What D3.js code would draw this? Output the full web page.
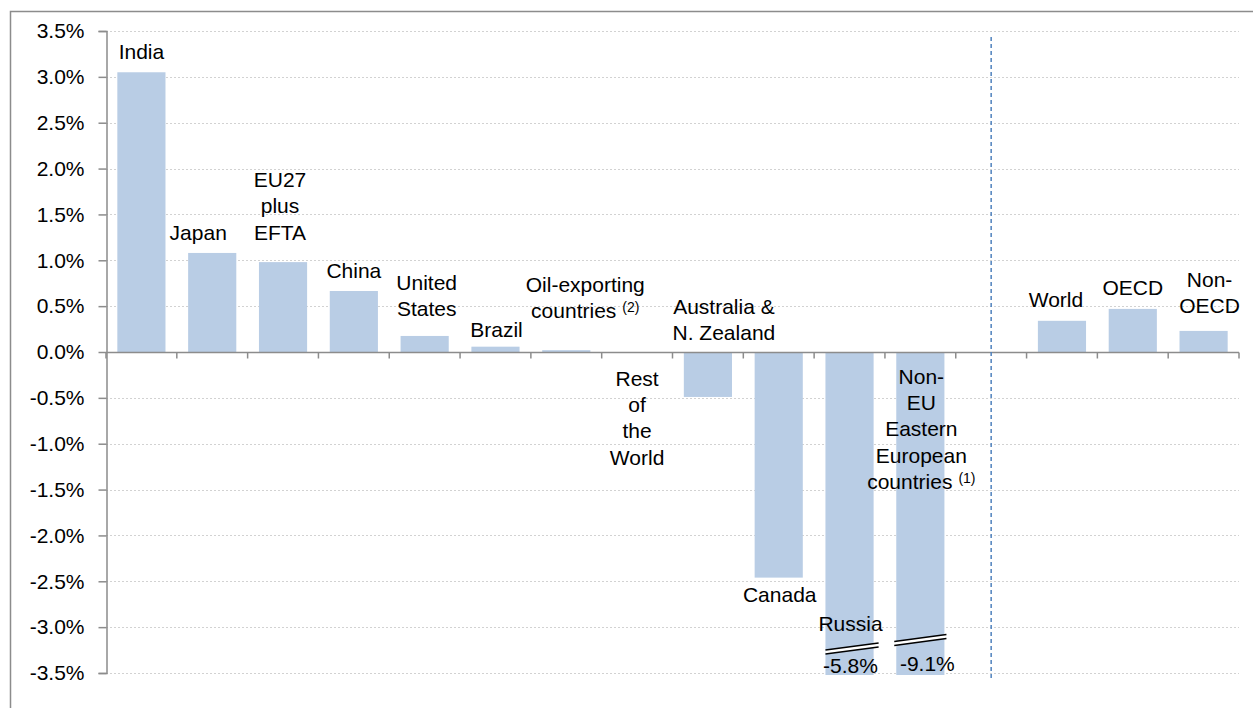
<!DOCTYPE html>
<html>
<head>
<meta charset="utf-8">
<script src="https://cdn.jsdelivr.net/npm/d3@7"></script>
<style>
  html, body { margin: 0; padding: 0; background: #fff; }
  svg { display: block; font-family: "Liberation Sans", Arial, sans-serif; }
</style>
</head>
<body>
<svg id="chart" width="1253" height="708"></svg>
<script>
// ---------- data ----------
const categories = ["India", "Japan", "EU27 plus EFTA", "China", "United States", "Brazil",
  "Oil-exporting countries", "Rest of the World", "Australia & N. Zealand", "Canada", "Russia",
  "Non-EU Eastern European countries", "", "World", "OECD", "Non-OECD"];
const values = [3.05, 1.08, 0.98, 0.665, 0.175, 0.058, 0.02, 0.0, -0.49, -2.46, -5.8, -9.1, null, 0.34, 0.47, 0.23];
const labelLines = [["India"], ["Japan"], ["EU27", "plus", "EFTA"], ["China"], ["United", "States"], ["Brazil"],
  ["Oil-exporting", "countries"], ["Rest", "of", "the", "World"], ["Australia &", "N. Zealand"], ["Canada"], ["Russia"],
  ["Non-", "EU", "Eastern", "European", "countries"], [], ["World"], ["OECD"], ["Non-", "OECD"]];
const labelNotes = ["", "", "", "", "", "", "(2)", "", "", "", "", "(1)", "", "", "", ""];
const yTicks = [3.5, 3.0, 2.5, 2.0, 1.5, 1.0, 0.5, 0.0, -0.5, -1.0, -1.5, -2.0, -2.5, -3.0, -3.5];

// ---------- layout (pixel offsets of labels relative to bar end) ----------
const labelDx = [0, -14, -3, 0, 2, 1, 19, 0, 16, 1, 1, 1, 0, -6, 0, 6];
const labelDy = [-13, -13, -75, -13, -46, -10, -58, 34, -83, 24, -42, -289, 0, -14, -14, -44];
const lineGap = 26.2;

const svg = d3.select("#chart");
const mLeft = 106, mRight = 1239, mTop = 31, mBottom = 673;

// outer frame
svg.append("rect").attr("x", 10.5).attr("y", 11.5).attr("width", 1260).attr("height", 720)
  .attr("fill", "none").attr("stroke", "#8c8c8c").attr("stroke-width", 1.5);

const x = d3.scaleBand().domain(d3.range(categories.length)).range([mLeft, mRight])
  .paddingInner(0.32).paddingOuter(0.16);
const y = d3.scaleLinear().domain([-3.5, 3.5]).range([mBottom, mTop]);
const step = x.step();
const bw = x.bandwidth();

// gridlines
svg.append("g").selectAll("line").data(yTicks.filter(d => d !== 0)).join("line")
  .attr("x1", mLeft).attr("x2", mRight)
  .attr("y1", d => Math.round(y(d)) + 0.5).attr("y2", d => Math.round(y(d)) + 0.5)
  .attr("stroke", "#d2d2d2").attr("stroke-width", 1.2).attr("stroke-dasharray", "2,2");

// bars
const clampV = v => Math.max(-3.5, Math.min(3.5, v));
svg.append("g").selectAll("rect").data(values.map((v, i) => ({v, i})).filter(d => d.v !== null)).join("rect")
  .attr("x", d => x(d.i))
  .attr("width", bw)
  .attr("y", d => y(Math.max(0, clampV(d.v))))
  .attr("height", d => Math.abs(y(clampV(d.v)) - y(0)) + (d.v < -3.5 ? 2 : 0))
  .attr("fill", "#b9cde5");

// y axis
const yAxis = d3.axisLeft(y).tickValues(yTicks).tickSize(8).tickPadding(14)
  .tickFormat(d => d.toFixed(1) + "%");
const gy = svg.append("g").attr("transform", `translate(${mLeft + 0.5},0)`).call(yAxis);
gy.select(".domain").attr("stroke", "#8c8c8c").attr("stroke-width", 1.5);
gy.selectAll(".tick line").attr("stroke", "#8c8c8c").attr("stroke-width", 1.5);
gy.selectAll(".tick text").attr("font-size", 21).attr("fill", "#000")
  .attr("font-family", "'Liberation Sans', Arial, sans-serif");

// x axis at zero
const y0 = Math.round(y(0)) + 0.5;
svg.append("line").attr("x1", mLeft).attr("x2", mRight).attr("y1", y0).attr("y2", y0)
  .attr("stroke", "#8c8c8c").attr("stroke-width", 1.5);
const bounds = d3.range(categories.length + 1).map(i => x(0) - x.paddingInner() * step / 2 + i * step);
svg.append("g").selectAll("line").data(bounds).join("line")
  .attr("x1", d => d).attr("x2", d => d).attr("y1", y0).attr("y2", y0 + 6)
  .attr("stroke", "#8c8c8c").attr("stroke-width", 1.5);

// dashed divider at gap category
const gapIdx = categories.indexOf("");
const xd = x(gapIdx) + bw / 2;
svg.append("line").attr("x1", xd).attr("x2", xd).attr("y1", y(3.5) + 6).attr("y2", y(-3.5) + 8)
  .attr("stroke", "#4f81bd").attr("stroke-width", 1.5).attr("stroke-dasharray", "4,3");

// break marks for clipped bars
const breakCenters = {10: -24.5, 11: -33};
const breakExt = {10: [0, 5], 11: [-2, 2]};
values.forEach((v, i) => {
  if (v === null || v >= -3.5) return;
  const cy = y(-3.5) + breakCenters[i];
  const x1 = x(i) + breakExt[i][0], x2 = x(i) + bw + breakExt[i][1];
  const s = 3.5;
  const g = svg.append("g");
  g.append("polygon")
    .attr("points", `${x1},${cy + s - 2} ${x2},${cy - s - 2} ${x2},${cy - s + 2} ${x1},${cy + s + 2}`)
    .attr("fill", "#fff");
  [-2, 2].forEach(o => g.append("line")
    .attr("x1", x1).attr("y1", cy + s + o).attr("x2", x2).attr("y2", cy - s + o)
    .attr("stroke", "#000").attr("stroke-width", 1.4));
  svg.append("text").attr("x", x(i) + bw / 2 + (i === 11 ? 7 : 1)).attr("y", y(-3.5) + (i === 11 ? -2 : 0))
    .attr("text-anchor", "middle").attr("font-size", 21).attr("fill", "#000")
    .text(v.toFixed(1) + "%");
});

// category labels
labelLines.forEach((lines, i) => {
  if (!lines.length) return;
  const v = values[i];
  const yEnd = y(clampV(v));
  const t = svg.append("text").attr("text-anchor", "middle").attr("font-size", 21).attr("fill", "#000");
  const cx = x(i) + bw / 2 + labelDx[i];
  lines.forEach((ln, k) => {
    t.append("tspan").attr("x", cx).attr("y", yEnd + labelDy[i] + k * lineGap).text(ln);
    if (k === lines.length - 1 && labelNotes[i]) {
      t.append("tspan").attr("dx", 6).attr("dy", -6).attr("font-size", 14).text(labelNotes[i]);
    }
  });
});
</script>
</body>
</html>
